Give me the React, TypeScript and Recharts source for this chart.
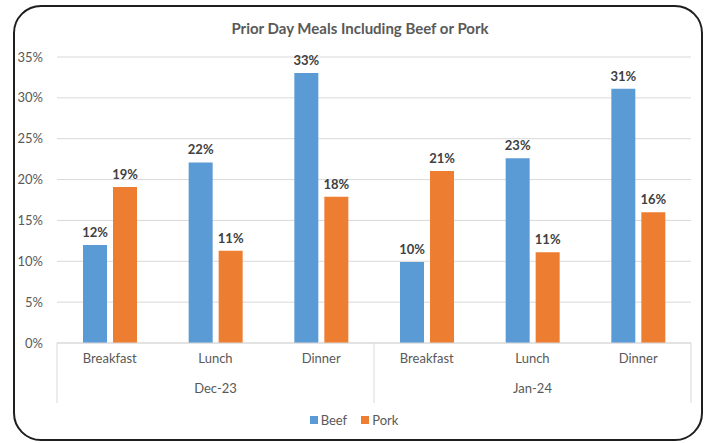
import {
  BarChart,
  Bar,
  XAxis,
  YAxis,
  CartesianGrid,
  Legend,
  LabelList,
} from "recharts";

const months = ["Dec-23", "Dec-23", "Dec-23", "Jan-24", "Jan-24", "Jan-24"];
const meals = ["Breakfast", "Lunch", "Dinner", "Breakfast", "Lunch", "Dinner"];
const beef = [12.0, 22.1, 33.05, 9.9, 22.6, 31.1];
const pork = [19.1, 11.3, 17.9, 21.05, 11.1, 16.0];
const yTicks = [0, 5, 10, 15, 20, 25, 30, 35];

const data = meals.map((m, i) => ({
  meal: m,
  month: months[i],
  Beef: beef[i],
  Pork: pork[i],
}));

const FONT = "Lato, 'Open Sans', sans-serif";
const W = 707;
const H = 443;
const LEFT = 57;
const RIGHT = 16;
const band = (W - LEFT - RIGHT) / data.length;

const MealTick = (props: any) => {
  const { x, y, payload, index } = props;
  const i = index ?? payload.index;
  const month = months[i];
  const groupStart = i === 0 || months[i - 1] !== month;
  const groupSize = months.filter((m) => m === month).length;
  const firstIdx = months.indexOf(month);
  const isMid = i === firstIdx + Math.floor(groupSize / 2);
  return (
    <g>
      <text
        x={x}
        y={y + 12}
        textAnchor="middle"
        fill="#595959"
        fontSize={13}
        fontFamily={FONT}
      >
        {payload.value}
      </text>
      {isMid && (
        <text
          x={x}
          y={y + 42}
          textAnchor="middle"
          fill="#595959"
          fontSize={13}
          fontFamily={FONT}
        >
          {month}
        </text>
      )}
      {groupStart && (
        <line x1={x - band / 2} x2={x - band / 2} y1={y - 8} y2={y + 52} stroke="#d9d9d9" />
      )}
      {i === months.length - 1 && (
        <line x1={x + band / 2} x2={x + band / 2} y1={y - 8} y2={y + 52} stroke="#d9d9d9" />
      )}
    </g>
  );
};

const LegendContent = () => (
  <div
    style={{
      display: "flex",
      justifyContent: "center",
      gap: 14,
      fontFamily: FONT,
      fontSize: 13,
      color: "#595959",
    }}
  >
    {[
      ["Beef", "#5b9bd5"],
      ["Pork", "#ed7d31"],
    ].map(([name, color]) => (
      <span key={name} style={{ display: "flex", alignItems: "center", gap: 3 }}>
        <span style={{ width: 8, height: 8, background: color, display: "inline-block" }} />
        {name}
      </span>
    ))}
  </div>
);

export default function App() {
  return (
    <div style={{ position: "absolute", left: 0, top: 0, width: W, height: H, background: "#fff" }}>
      <div
        style={{
          position: "absolute",
          left: 13,
          top: 5,
          width: 686,
          height: 432,
          border: "2px solid #1f1f1f",
          borderRadius: 28,
        }}
      />
      <div
        style={{
          position: "absolute",
          left: 0,
          top: 19,
          width: 720,
          textAlign: "center",
          fontFamily: FONT,
          fontSize: 15,
          fontWeight: 700,
          color: "#595959",
        }}
      >
        Prior Day Meals Including Beef or Pork
      </div>
      <div style={{ position: "absolute", left: 0, top: 0 }}>
        <BarChart
          width={W}
          height={H}
          data={data}
          margin={{ top: 57, right: RIGHT, left: 17, bottom: 9 }}
          barSize={24}
          barGap={6}
        >
          <CartesianGrid vertical={false} stroke="#d9d9d9" />
          <XAxis
            dataKey="meal"
            interval={0}
            tickLine={false}
            axisLine={{ stroke: "#d9d9d9" }}
            height={69}
            tick={<MealTick />}
          />
          <YAxis
            width={40}
            domain={[0, 35]}
            ticks={yTicks}
            tickFormatter={(v: number) => `${v}%`}
            axisLine={false}
            tickLine={false}
            tickMargin={8}
            tick={{ fill: "#595959", fontSize: 13, fontFamily: FONT }}
          />
          <Legend verticalAlign="bottom" height={22} content={<LegendContent />} />
          <Bar dataKey="Beef" fill="#5b9bd5" isAnimationActive={false}>
            <LabelList
              dataKey="Beef"
              position="top"
              offset={8}
              formatter={(v: any) => `${Math.round(Number(v))}%`}
              fill="#404040"
              fontSize={13}
              fontWeight={700}
              fontFamily={FONT}
            />
          </Bar>
          <Bar dataKey="Pork" fill="#ed7d31" isAnimationActive={false}>
            <LabelList
              dataKey="Pork"
              position="top"
              offset={8}
              formatter={(v: any) => `${Math.round(Number(v))}%`}
              fill="#404040"
              fontSize={13}
              fontWeight={700}
              fontFamily={FONT}
            />
          </Bar>
        </BarChart>
      </div>
    </div>
  );
}
